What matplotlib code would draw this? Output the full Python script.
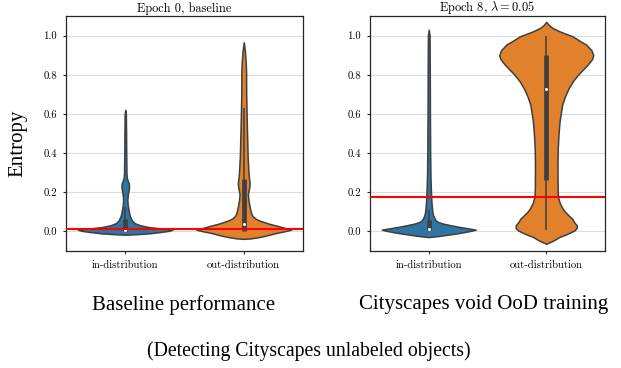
import matplotlib
matplotlib.use("Agg")
import matplotlib.pyplot as plt

plt.rcParams['font.family'] = 'serif'
plt.rcParams['font.serif'] = ['cmr10', 'DejaVu Serif']
plt.rcParams['mathtext.fontset'] = 'cm'
plt.rcParams['axes.formatter.use_mathtext'] = True

# ---- data ----
categories = ["in-distribution", "out-distribution"]
titles = ["Epoch 0, baseline", r"Epoch 8, $\lambda = 0.05$"]
yticks = [0.0, 0.2, 0.4, 0.6, 0.8, 1.0]
thresholds = [0.01, 0.176]

# violin profiles: entropy level and half-width of the density outline
base_in_y = [-0.017, -0.014, -0.01, -0.003, 0.003, 0.009, 0.015, 0.022, 0.031, 0.042,
             0.056, 0.07, 0.082, 0.1, 0.116, 0.14, 0.16, 0.18, 0.2, 0.215, 0.23,
             0.245, 0.26, 0.275, 0.3, 0.35, 0.4, 0.5, 0.6, 0.62]
base_in_w = [0.0, 0.1, 0.2, 0.3, 0.37, 0.40, 0.3, 0.2, 0.127, 0.08,
             0.056, 0.045, 0.037, 0.031, 0.026, 0.02, 0.018, 0.02, 0.025, 0.03, 0.032,
             0.03, 0.02, 0.013, 0.01, 0.009, 0.008, 0.007, 0.005, 0.0]

base_out_y = [-0.038, -0.036, -0.03, -0.024, -0.015, -0.007, 0.0, 0.009, 0.015, 0.022,
              0.029, 0.038, 0.048, 0.056, 0.065, 0.075, 0.082, 0.095, 0.108, 0.125,
              0.142, 0.16, 0.19, 0.22, 0.245, 0.27, 0.3, 0.38, 0.45, 0.52, 0.6,
              0.69, 0.76, 0.81, 0.86, 0.92, 0.966]
base_out_w = [0.0, 0.056, 0.12, 0.17, 0.23, 0.28, 0.34, 0.40, 0.36, 0.32,
              0.28, 0.22, 0.17, 0.13, 0.10, 0.08, 0.07, 0.062, 0.056, 0.05,
              0.045, 0.04, 0.035, 0.045, 0.05, 0.045, 0.04, 0.033, 0.03, 0.027, 0.024,
              0.021, 0.02, 0.02, 0.017, 0.01, 0.0]

ood_in_y = [-0.029, -0.024, -0.018, -0.012, -0.004, 0.003, 0.009, 0.016, 0.023, 0.031,
            0.04, 0.048, 0.056, 0.065, 0.082, 0.1, 0.116, 0.15, 0.2, 0.25, 0.3, 0.4,
            0.6, 0.8, 1.0, 1.03]
ood_in_w = [0.0, 0.08, 0.15, 0.22, 0.3, 0.36, 0.40, 0.33, 0.26, 0.19,
            0.12, 0.08, 0.06, 0.05, 0.037, 0.031, 0.028, 0.023, 0.019, 0.016, 0.014, 0.012,
            0.01, 0.009, 0.007, 0.0]

ood_out_y = [-0.063, -0.05, -0.04, -0.029, -0.015, 0.005, 0.018, 0.031, 0.045, 0.065,
             0.082, 0.1, 0.116, 0.145, 0.176, 0.22, 0.287, 0.35, 0.424, 0.5, 0.56,
             0.646, 0.69, 0.73, 0.77, 0.8, 0.85, 0.88, 0.9, 0.925, 0.954, 0.975,
             0.996, 1.02, 1.04, 1.055, 1.07]
ood_out_w = [0.0, 0.05, 0.08, 0.11, 0.17, 0.24, 0.26, 0.26, 0.24, 0.22,
             0.19, 0.16, 0.14, 0.115, 0.10, 0.097, 0.096, 0.096, 0.098, 0.105, 0.113,
             0.135, 0.16, 0.19, 0.23, 0.27, 0.35, 0.39, 0.40, 0.385, 0.34, 0.28,
             0.225, 0.12, 0.05, 0.02, 0.0]

# box statistics: whisker low, q1, median, q3, whisker high
base_in_box = [0.0, 0.0, 0.007, 0.065, 0.125]
base_out_box = [0.0, 0.0, 0.036, 0.27, 0.63]
ood_in_box = [0.0, 0.005, 0.01, 0.056, 0.11]
ood_out_box = [0.005, 0.265, 0.728, 0.90, 1.0]

colors = ["#3274a1", "#e1812c"]
edge = "#3f3f3f"

panels = [
    [(base_in_y, base_in_w, base_in_box), (base_out_y, base_out_w, base_out_box)],
    [(ood_in_y, ood_in_w, ood_in_box), (ood_out_y, ood_out_w, ood_out_box)],
]

fig = plt.figure(figsize=(6.21, 3.68), dpi=100)
axes = [fig.add_axes([0.1063, 0.318, 0.3816, 0.6385]),
        fig.add_axes([0.5958, 0.318, 0.3784, 0.6385])]

for ax, panel, title, thr in zip(axes, panels, titles, thresholds):
    ax.set_axisbelow(True)
    ax.grid(axis='y', color='#dcdcdc', lw=0.8)
    for pos, (vy, vw, box) in enumerate(panel):
        left = [pos - w for w in vw]
        right = [pos + w for w in vw]
        ax.fill_betweenx(vy, left, right, facecolor=colors[pos], edgecolor=edge,
                         lw=1.1, zorder=2)
        wlo, q1, med, q3, whi = box
        ax.plot([pos, pos], [wlo, whi], color=edge, lw=1.1, zorder=3,
                solid_capstyle='butt')
        ax.plot([pos, pos], [q1, q3], color=edge, lw=3.4, zorder=3,
                solid_capstyle='butt')
        ax.plot([pos], [med], 'o', color='white', ms=2.2, mew=0, zorder=4)
    ax.axhline(thr, color='red', lw=1.5, zorder=5)
    ax.set_xlim(-0.5, 1.5)
    ax.set_ylim(-0.1, 1.1)
    ax.set_xticks([0, 1])
    ax.set_xticklabels(categories, fontsize=7.7)
    ax.set_yticks(yticks)
    ax.set_yticklabels([f"{t:.1f}" for t in yticks], fontsize=7.7)
    ax.tick_params(length=2.5, width=0.8, color='#262626', pad=4)
    for s in ax.spines.values():
        s.set_color('#262626')
        s.set_linewidth(0.9)
    ax.set_title(title, fontsize=8.9, pad=3)

axes[0].set_ylabel("Entropy", fontsize=15, family='Liberation Serif')
axes[0].yaxis.set_label_coords(-0.165, 0.46)

fig.text(184 / 621, 1 - 305 / 368, "Baseline performance", ha='center', va='center',
         fontsize=15, family='Liberation Serif')
fig.text(484 / 621, 1 - 305 / 368, "Cityscapes void OoD training", ha='center',
         va='center', fontsize=15, family='Liberation Serif')
fig.text(309 / 621, 1 - 351 / 368, "(Detecting Cityscapes unlabeled objects)",
         ha='center', va='center', fontsize=14.2, family='Liberation Serif')

fig.savefig("out.png", dpi=100)
